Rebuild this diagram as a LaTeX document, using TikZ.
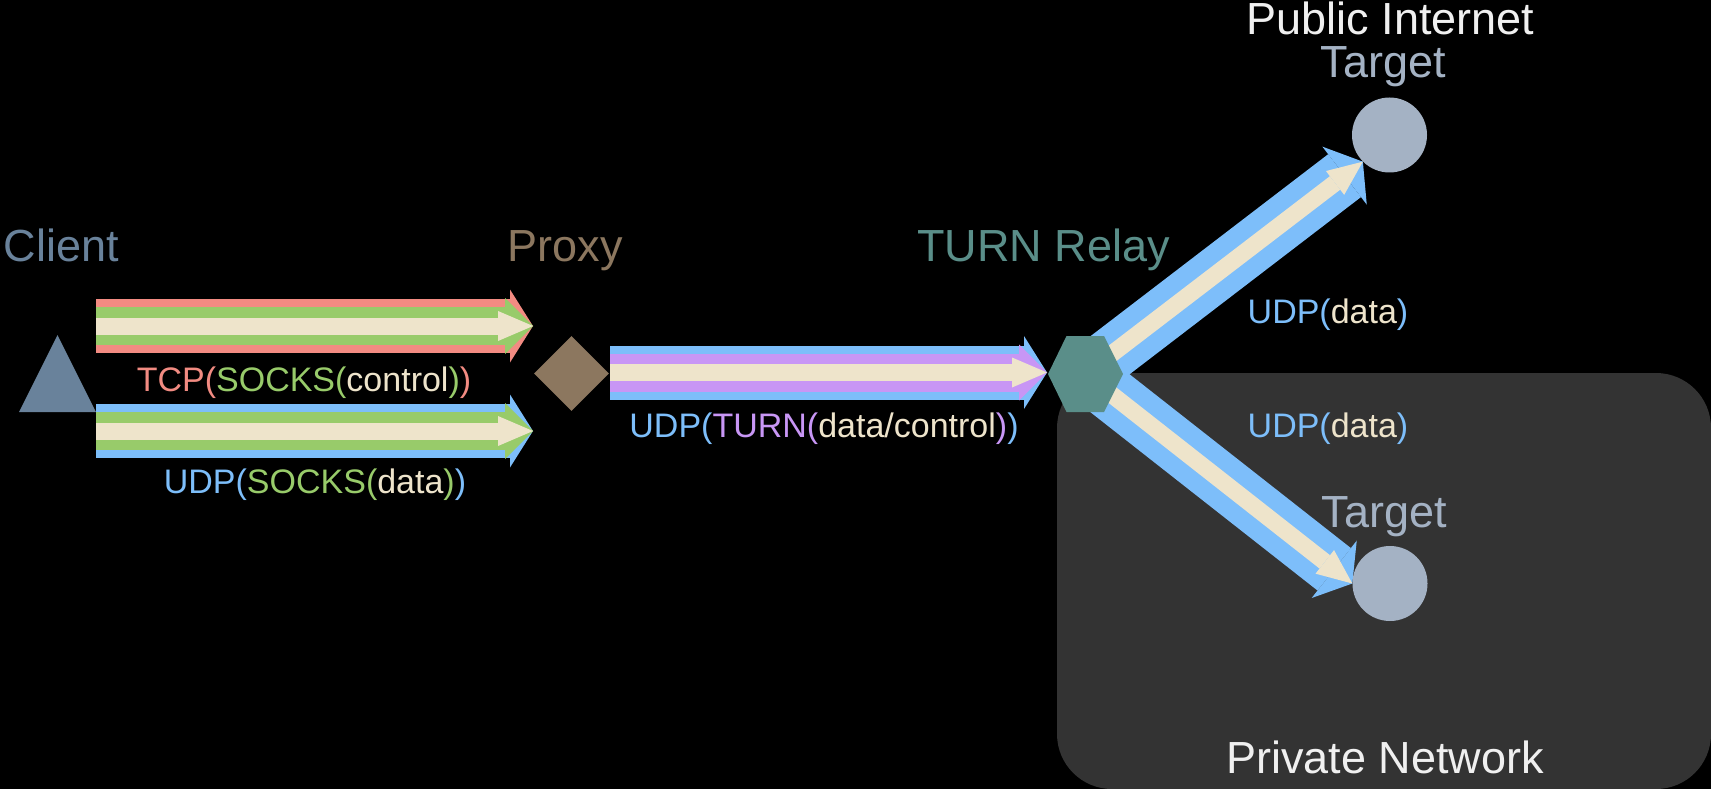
\documentclass[tikz,border=0pt]{standalone}
\usepackage{fontspec}
\setmainfont{Liberation Sans}
\usetikzlibrary{arrows.meta,shapes.geometric}
\pgfdeclarelayer{bg}\pgfdeclarelayer{mid}\pgfsetlayers{bg,mid,main}
\definecolor{cred}{RGB}{242,139,130}
\definecolor{cgreen}{RGB}{152,203,106}
\definecolor{ccream}{RGB}{238,228,203}
\definecolor{cblue}{RGB}{125,190,250}
\definecolor{cpurple}{RGB}{200,150,245}
\definecolor{cclient}{RGB}{105,130,155}
\definecolor{cproxy}{RGB}{140,119,95}
\definecolor{crelay}{RGB}{90,142,137}
\definecolor{ctarget}{RGB}{164,178,196}
\definecolor{cbox}{RGB}{51,51,51}
\definecolor{cwhite}{RGB}{240,240,240}
\begin{document}
\begin{tikzpicture}[x=1pt,y=-1pt,
  namelab/.style={inner sep=0pt, anchor=base, font=\fontsize{45}{54}\selectfont},
  edgelab/.style={inner sep=0pt, anchor=base, font=\fontsize{34}{40}\selectfont},
  outerA/.style={line width=54pt, -{Triangle[length=23pt,width=73pt,line width=0pt]}},
  midA/.style={line width=38pt, -{Triangle[length=28pt,width=56pt,line width=0pt]}},
  innerA/.style={line width=17pt, -{Triangle[length=35pt,width=30pt,line width=0pt]}},
  target/.style={circle, fill=ctarget, minimum size=75pt, inner sep=0pt},
]
\useasboundingbox (0,0) rectangle (1711,789);
\begin{pgfonlayer}{bg}
\fill[black] (0,0) rectangle (1711,789);
\fill[cbox, rounded corners=55pt] (1057,373) rectangle (1711,789);
\end{pgfonlayer}

% nodes
\coordinate (client) at (57.5,373.5);
\fill[cclient] ([shift={(-38.5,38.5)}]client) -- ([shift={(38.5,38.5)}]client) -- ([shift={(0,-38.5)}]client) -- cycle;
\node[diamond, fill=cproxy, minimum width=75pt, minimum height=75pt, inner sep=0pt] (proxy) at (571.5,373.5) {};
\coordinate (relay) at (1085.5,374);
\fill[crelay] ([shift={(-37.5,0)}]relay) -- ([shift={(-19,-38)}]relay) -- ([shift={(18.5,-38)}]relay)
  -- ([shift={(37.5,0)}]relay) -- ([shift={(18.5,38)}]relay) -- ([shift={(-19,38)}]relay) -- cycle;
\node[target] (tgtA) at (1389.5,135) {};
\node[target] (tgtB) at (1390,583.5) {};

% node names
\node[namelab, text=cclient] (clientlab) at (61.5,261) {Client};
\node[namelab, text=cproxy] (proxylab) at (565,261) {Proxy};
\node[namelab, text=crelay] (relaylab) at (1043.5,261) {TURN Relay};
\node[namelab, text=cwhite] (publab) at (1390.5,35) {Public Internet};
\node[namelab, text=ctarget] (tgtAlab) at (1383.5,78) {Target};
\node[namelab, text=ctarget] (tgtBlab) at (1384.5,527) {Target};
\node[namelab, text=cwhite] (privlab) at (1385,773) {Private Network};

% edge labels
\node[edgelab] (tcplab) at (304,391) {\textcolor{cred}{TCP(}\textcolor{cgreen}{SOCKS(}\textcolor{ccream}{control}\textcolor{cgreen}{)}\textcolor{cred}{)}};
\node[edgelab] (udpslab) at (315,493) {\textcolor{cblue}{UDP(}\textcolor{cgreen}{SOCKS(}\textcolor{ccream}{data}\textcolor{cgreen}{)}\textcolor{cblue}{)}};
\node[edgelab] (turnlab) at (824,437) {\textcolor{cblue}{UDP(}\textcolor{cpurple}{TURN(}\textcolor{ccream}{data/control}\textcolor{cpurple}{)}\textcolor{cblue}{)}};
\node[edgelab] (udpAlab) at (1328,323) {\textcolor{cblue}{UDP(}\textcolor{ccream}{data}\textcolor{cblue}{)}};
\node[edgelab] (udpBlab) at (1328,437) {\textcolor{cblue}{UDP(}\textcolor{ccream}{data}\textcolor{cblue}{)}};

% connectors
\coordinate (tcpS) at (96,326);
\coordinate (tcpE) at (533,326);
\coordinate (udpS) at (96,431);
\coordinate (udpE) at (533,431);
\coordinate (turnS) at (610,372.5);
\coordinate (turnE) at (1047,372.5);
\begin{pgfonlayer}{mid}
\draw[outerA, cred] (tcpS) -- (tcpE);
\draw[midA, cgreen] (tcpS) -- (tcpE);
\draw[innerA, ccream] (tcpS) -- (tcpE);
\draw[outerA, cblue] (udpS) -- (udpE);
\draw[midA, cgreen] (udpS) -- (udpE);
\draw[innerA, ccream] (udpS) -- (udpE);
\draw[outerA, cblue] (turnS) -- (turnE);
\draw[midA, cpurple] (turnS) -- (turnE);
\draw[innerA, ccream] (turnS) -- (turnE);
\draw[outerA, cblue] (relay) -- (tgtB.180);
\draw[innerA, ccream] (relay) -- (tgtB.180);
\draw[outerA, cblue] (relay) -- (tgtA.225);
\draw[innerA, ccream] (relay) -- (tgtA.225);
\end{pgfonlayer}
\end{tikzpicture}
\end{document}
